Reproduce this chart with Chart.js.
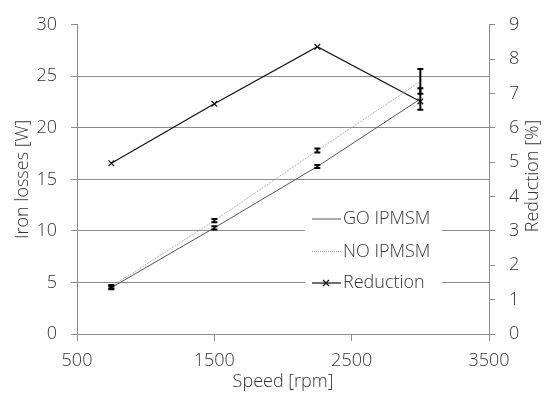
<!DOCTYPE html>
<html>
<head>
<meta charset="utf-8">
<script src="https://cdn.jsdelivr.net/npm/chart.js@4.4.1/dist/chart.umd.min.js"></script>
<style>
  html, body { margin: 0; padding: 0; background: #fff; }
  #wrap { width: 548px; height: 394px; }
</style>
</head>
<body>
<div id="wrap"><canvas id="chart" width="548" height="394"></canvas></div>
<script>
const speeds = [750, 1500, 2250, 3000];
const goLosses = [4.5, 10.3, 16.25, 22.8];
const noLosses = [4.6, 11.0, 17.8, 24.5];
const reduction = [4.97, 6.7, 8.36, 6.77];
const goErr = [0.15, 0.15, 0.15, 1.05];
const noErr = [0.15, 0.15, 0.2, 1.2];
const legendLabels = ["GO IPMSM", "NO IPMSM", "Reduction"];

const textColor = "#333333";
const axisColor = "#8c8c8c";
const font = { family: "'Open Sans', sans-serif", size: 18, weight: 300 };
const fontStr = `${font.weight} ${font.size}px ${font.family}`;

function points(ys) {
  return speeds.map((x, i) => ({ x, y: ys[i] }));
}

const errorBars = {
  id: "errorBars",
  afterDatasetsDraw(chart) {
    const ctx = chart.ctx;
    const xs = chart.scales.x;
    chart.data.datasets.forEach((ds) => {
      if (!ds.err) return;
      const ys = chart.scales[ds.yAxisID];
      ctx.save();
      ctx.strokeStyle = "#000";
      ctx.lineWidth = 2;
      ds.data.forEach((p, i) => {
        const px = xs.getPixelForValue(p.x);
        const top = ys.getPixelForValue(p.y + ds.err[i]);
        const bot = ys.getPixelForValue(p.y - ds.err[i]);
        ctx.beginPath();
        ctx.moveTo(px, top); ctx.lineTo(px, bot);
        ctx.moveTo(px - 3, top); ctx.lineTo(px + 3, top);
        ctx.moveTo(px - 3, bot); ctx.lineTo(px + 3, bot);
        ctx.stroke();
      });
      ctx.restore();
    });
  },
};

const insideLegend = {
  id: "insideLegend",
  beforeDatasetsDraw(chart) {
    const ctx = chart.ctx;
    ctx.save();
    ctx.fillStyle = "#fff";
    ctx.fillRect(305, 204, 137, 96);
    const rows = [219, 251.5, 283];
    ctx.font = fontStr;
    ctx.textBaseline = "middle";
    rows.forEach((y, i) => {
      const ds = chart.data.datasets[i];
      ctx.strokeStyle = ds.borderColor;
      ctx.lineWidth = ds.borderWidth;
      ctx.setLineDash(ds.borderDash || []);
      ctx.beginPath();
      ctx.moveTo(312, y); ctx.lineTo(341, y);
      ctx.stroke();
      ctx.setLineDash([]);
      if (ds.pointRadius) {
        const r = 3;
        ctx.beginPath();
        ctx.moveTo(326 - r, y - r); ctx.lineTo(326 + r, y + r);
        ctx.moveTo(326 - r, y + r); ctx.lineTo(326 + r, y - r);
        ctx.stroke();
      }
      ctx.fillStyle = textColor;
      ctx.fillText(legendLabels[i], 343, y);
    });
    ctx.restore();
  },
  afterDraw(chart) {
    // right axis title reads bottom-to-top like the left one
    const ctx = chart.ctx;
    ctx.save();
    ctx.font = fontStr;
    ctx.fillStyle = textColor;
    ctx.textAlign = "center";
    ctx.textBaseline = "middle";
    ctx.translate(533, 176);
    ctx.rotate(-Math.PI / 2);
    ctx.fillText("Reduction [%]", 0, 0);
    ctx.restore();
  },
};

new Chart(document.getElementById("chart"), {
  type: "line",
  data: {
    datasets: [
      {
        label: legendLabels[0],
        data: points(goLosses),
        err: goErr,
        yAxisID: "y",
        borderColor: "#555555",
        borderWidth: 1,
        pointRadius: 0,
      },
      {
        label: legendLabels[1],
        data: points(noLosses),
        err: noErr,
        yAxisID: "y",
        borderColor: "#9a9a9a",
        borderWidth: 1,
        borderDash: [1, 1],
        pointRadius: 0,
      },
      {
        label: legendLabels[2],
        data: points(reduction),
        yAxisID: "y1",
        borderColor: "#111111",
        borderWidth: 1.2,
        pointStyle: "crossRot",
        pointRadius: 4,
        pointBorderWidth: 1.2,
        pointBackgroundColor: "#111111",
      },
    ],
  },
  options: {
    responsive: false,
    animation: false,
    layout: { padding: { top: 18, left: 0, right: 0, bottom: 0 } },
    plugins: { legend: { display: false }, tooltip: { enabled: false } },
    scales: {
      x: {
        type: "linear",
        min: 500,
        max: 3500,
        ticks: { stepSize: 1000, color: textColor, font, padding: 9, callback: (v) => String(v) },
        grid: { drawOnChartArea: false, tickLength: 7, color: axisColor, tickColor: axisColor },
        border: { color: axisColor },
        title: { display: true, text: "Speed [rpm]", color: textColor, font, padding: { top: 0, bottom: 1 } },
        afterFit: (s) => { s.height = 60; },
      },
      y: {
        position: "left",
        min: 0,
        max: 30,
        ticks: { stepSize: 5, color: textColor, font, padding: 14 },
        grid: {
          tickLength: 6,
          color: (c) => (c.tick && c.tick.value === 30 ? "rgba(0,0,0,0)" : axisColor),
          tickColor: axisColor,
        },
        border: { color: axisColor },
        title: { display: true, text: "Iron losses [W]", color: textColor, font, padding: { top: 12 } },
        afterFit: (s) => { s.width = 77; },
      },
      y1: {
        position: "right",
        min: 0,
        max: 9,
        ticks: { stepSize: 1, color: textColor, font, padding: 14 },
        grid: { drawOnChartArea: false, tickLength: 6, color: axisColor, tickColor: axisColor },
        border: { color: axisColor },
        title: { display: false },
        afterFit: (s) => { s.width = 59; },
      },
    },
  },
  plugins: [insideLegend, errorBars],
});
</script>
</body>
</html>
